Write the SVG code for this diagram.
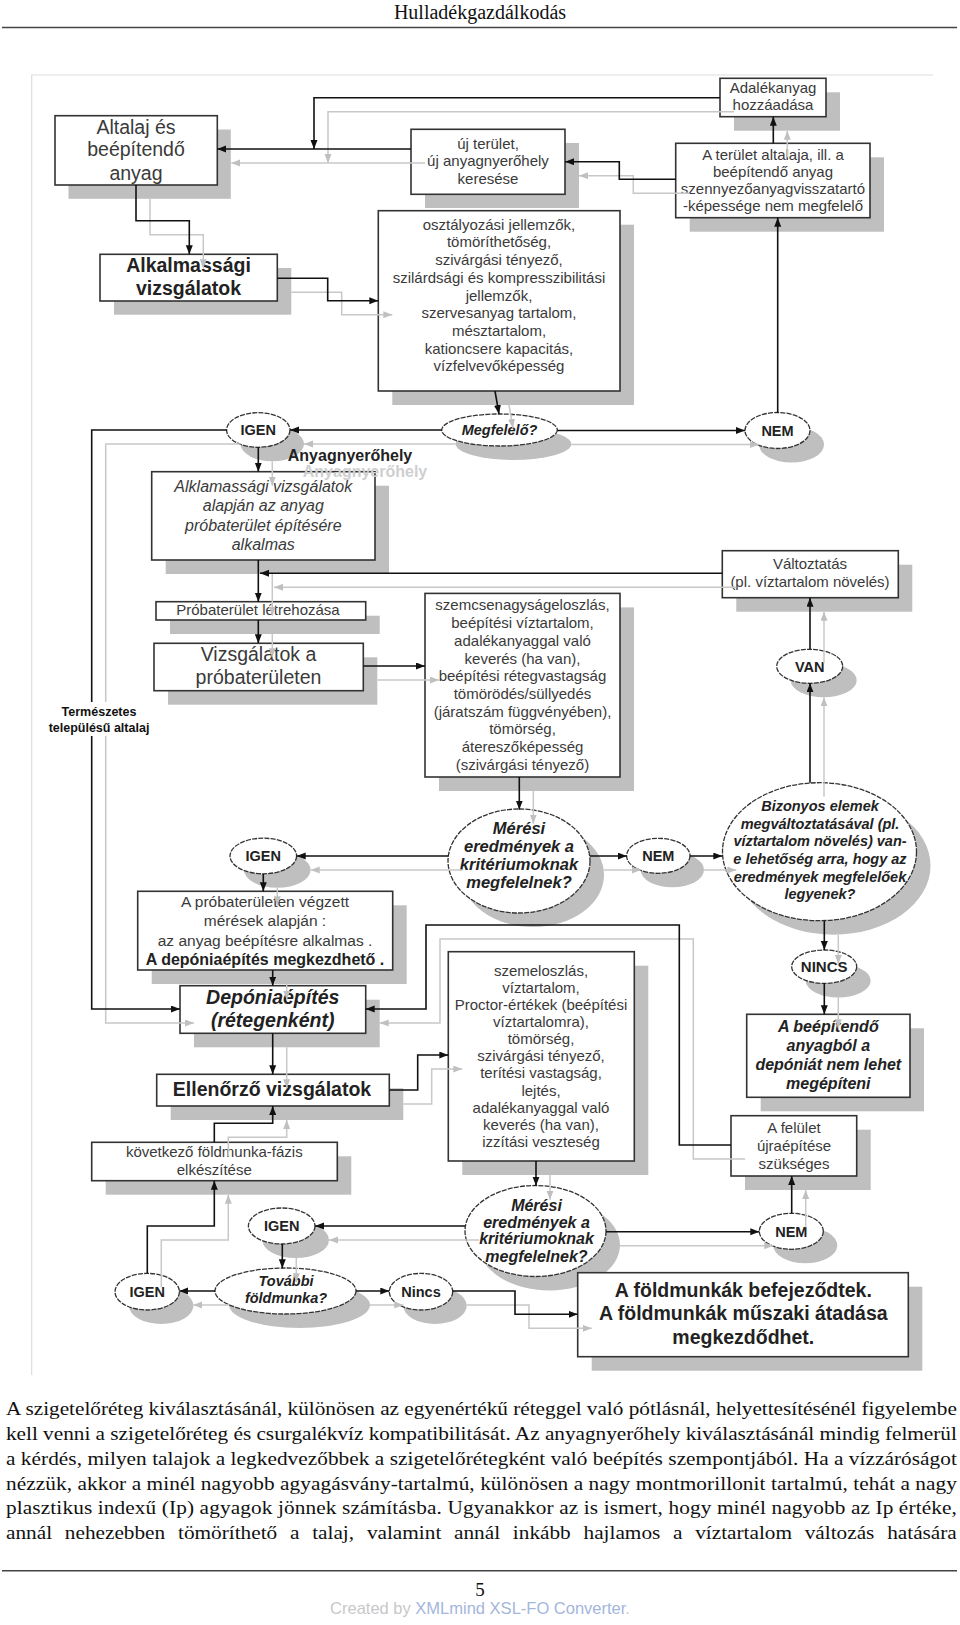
<svg xmlns="http://www.w3.org/2000/svg" width="960" height="1625" viewBox="0 0 960 1625">
<defs>
<style>
.bs{fill:#bfbfbf}
.bx{fill:#fff;stroke:#333;stroke-width:1.6}
.el{fill:#fff;stroke:#333;stroke-width:1.3;stroke-dasharray:5 1.2}
.t{font-family:"Liberation Sans",Arial,sans-serif;fill:#3a3a3a;text-anchor:middle;font-size:15px}
.b{font-weight:bold;fill:#222}
.i{font-style:italic}
.f19{font-size:19.5px}
.f16{font-size:16px}
.f14{font-size:14.5px}
.c{fill:none;stroke:#111;stroke-width:1.6;marker-end:url(#ah)}
.cs{fill:none;stroke:#c8c8c8;stroke-width:1.5;marker-end:url(#ahg)}
.serif{font-family:"Liberation Serif","Times New Roman",serif;fill:#111}
</style>
<marker id="ah" markerUnits="userSpaceOnUse" markerWidth="10" markerHeight="8" refX="9" refY="3.5" orient="auto"><path d="M0,0 L9,3.5 L0,7 z" fill="#111"/></marker>
<marker id="ahg" markerUnits="userSpaceOnUse" markerWidth="10" markerHeight="8" refX="9" refY="3.5" orient="auto"><path d="M0,0 L9,3.5 L0,7 z" fill="#c0c0c0"/></marker>
</defs>
<rect width="960" height="1625" fill="#fff"/>
<!-- page header -->
<text class="serif" x="480" y="19" font-size="20" text-anchor="middle">Hulladékgazdálkodás</text>
<line x1="2" y1="27.5" x2="957" y2="27.5" stroke="#444" stroke-width="1.5"/>
<!-- frame -->
<path d="M31.7,1375 V75 H933" fill="none" stroke="#ddd" stroke-width="1.2"/>

<g id="n-altalaj"><rect class="bs" x="68.5" y="129.5" width="162.3" height="69.3"/><rect class="bx" x="55" y="115.7" width="162.3" height="69.3"/>
<text class="t f19" x="136"><tspan x="136" y="133.7">Altalaj és</tspan><tspan x="136" y="156">beépítendő</tspan><tspan x="136" y="179.7">anyag</tspan></text></g>

<g id="n-alkalmassagi"><rect class="bs" x="114" y="268" width="177.3" height="46.7"/><rect class="bx" x="100" y="254.3" width="177.3" height="46.7"/>
<text class="t b f19" x="188.5"><tspan x="188.5" y="272">Alkalmassági</tspan><tspan x="188.5" y="294.7">vizsgálatok</tspan></text></g>

<g id="n-ujterulet"><rect class="bs" x="425" y="143" width="154" height="65"/><rect class="bx" x="411" y="129.3" width="154" height="65"/>
<text class="t" x="488"><tspan x="488" y="148.7">új terület,</tspan><tspan x="488" y="166.1">új anyagnyerőhely</tspan><tspan x="488" y="183.7">keresése</tspan></text></g>

<g id="n-osztalyozasi"><rect class="bs" x="392.3" y="224.7" width="241.7" height="180.3"/><rect class="bx" x="378.3" y="210.7" width="241.7" height="180.3"/>
<text class="t" x="499"><tspan x="499" y="229.7">osztályozási jellemzők,</tspan><tspan x="499" y="247.4">tömöríthetőség,</tspan><tspan x="499" y="265.1">szivárgási tényező,</tspan><tspan x="499" y="282.8">szilárdsági és kompresszibilitási</tspan><tspan x="499" y="300.5">jellemzők,</tspan><tspan x="499" y="318.2">szervesanyag tartalom,</tspan><tspan x="499" y="335.9">mésztartalom,</tspan><tspan x="499" y="353.6">kationcsere kapacitás,</tspan><tspan x="499" y="371.3">vízfelvevőképesség</tspan></text></g>

<g id="n-adalekanyag"><rect class="bs" x="734" y="92.3" width="106" height="38.4"/><rect class="bx" x="720" y="78.3" width="106" height="38.4"/>
<text class="t" x="773"><tspan x="773" y="92.7">Adalékanyag</tspan><tspan x="773" y="109.7">hozzáadása</tspan></text></g>

<g id="n-terulet-altalaja"><rect class="bs" x="689.7" y="157.3" width="194.3" height="74.4"/><rect class="bx" x="675.7" y="143.3" width="194.3" height="74.4"/>
<text class="t" x="773"><tspan x="773" y="159.7">A terület altalaja, ill. a</tspan><tspan x="773" y="176.9">beépítendő anyag</tspan><tspan x="773" y="194.1">szennyezőanyagvisszatartó</tspan><tspan x="773" y="211.3">-képessége nem megfelelő</tspan></text></g>

<g id="n-igen1"><ellipse class="bs" cx="272.3" cy="444" rx="31.7" ry="17.3"/><ellipse class="el" cx="258.3" cy="430" rx="31.7" ry="17.3"/><text class="t b f14" x="258.3" y="435.2">IGEN</text></g>
<g id="n-megfelelo"><ellipse class="bs" cx="513.5" cy="444" rx="57.8" ry="16"/><ellipse class="el" cx="499.5" cy="430" rx="57.8" ry="16"/><text class="t b i f14" x="499.5" y="435.2">Megfelelő?</text></g>
<g id="n-nem1"><ellipse class="bs" cx="791.5" cy="444.5" rx="32.5" ry="18"/><ellipse class="el" cx="777.5" cy="430.5" rx="32.5" ry="18"/><text class="t b f14" x="777.5" y="435.7">NEM</text></g>

<g id="n-alklamassagi"><rect class="bs" x="165.7" y="485.7" width="223.3" height="88.3"/><rect class="bx" x="151.7" y="471.7" width="223.3" height="88.3"/>
<text class="t i f16" x="263.3"><tspan x="263.3" y="491.8">Alklamassági vizsgálatok</tspan><tspan x="263.3" y="511.2">alapján az anyag</tspan><tspan x="263.3" y="530.6">próbaterület építésére</tspan><tspan x="263.3" y="550">alkalmas</tspan></text></g>

<g id="n-probaterulet"><rect class="bs" x="170" y="615.7" width="209.7" height="18.3"/><rect class="bx" x="156" y="601.7" width="209.7" height="18.3"/>
<text class="t" x="258" y="614.7">Próbaterület létrehozása</text></g>

<g id="n-vizsgalatok"><rect class="bs" x="168" y="657.3" width="209.3" height="47.4"/><rect class="bx" x="154" y="643.3" width="209.3" height="47.4"/>
<text class="t f19" x="258.5"><tspan x="258.5" y="661">Vizsgálatok a</tspan><tspan x="258.5" y="683.7">próbaterületen</tspan></text></g>

<g id="n-szemcse"><rect class="bs" x="439" y="607.4" width="195" height="183.6"/><rect class="bx" x="425" y="593.4" width="195" height="183.6"/>
<text class="t" x="522.5"><tspan x="522.5" y="610.3">szemcsenagyságeloszlás,</tspan><tspan x="522.5" y="628">beépítési víztartalom,</tspan><tspan x="522.5" y="645.8">adalékanyaggal való</tspan><tspan x="522.5" y="663.5">keverés (ha van),</tspan><tspan x="522.5" y="681.2">beépítési rétegvastagság</tspan><tspan x="522.5" y="699">tömörödés/süllyedés</tspan><tspan x="522.5" y="716.7">(járatszám függvényében),</tspan><tspan x="522.5" y="734.4">tömörség,</tspan><tspan x="522.5" y="752.2">átereszőképesség</tspan><tspan x="522.5" y="769.9">(szivárgási tényező)</tspan></text></g>

<g id="n-valtoztatas"><rect class="bs" x="736.3" y="564.7" width="176" height="47"/><rect class="bx" x="722.3" y="550.7" width="176" height="47"/>
<text class="t" x="810"><tspan x="810" y="568.7">Változtatás</tspan><tspan x="810" y="587.1">(pl. víztartalom növelés)</tspan></text></g>

<g id="n-van"><ellipse class="bs" cx="823.7" cy="680.3" rx="33" ry="17"/><ellipse class="el" cx="809.7" cy="666.3" rx="33" ry="17"/><text class="t b f14" x="809.7" y="671.5">VAN</text></g>

<g id="n-meresi1"><ellipse class="bs" cx="533" cy="875" rx="71" ry="52"/><ellipse class="el" cx="519" cy="861" rx="71" ry="52"/>
<text class="t b i" style="font-size:16.5px" x="519"><tspan x="519" y="834">Mérési</tspan><tspan x="519" y="852">eredmények a</tspan><tspan x="519" y="870">kritériumoknak</tspan><tspan x="519" y="888">megfelelnek?</tspan></text></g>

<g id="n-igen2"><ellipse class="bs" cx="277.3" cy="870" rx="33.3" ry="17.8"/><ellipse class="el" cx="263.3" cy="856" rx="33.3" ry="17.8"/><text class="t b f14" x="263.3" y="861.2">IGEN</text></g>
<g id="n-nem2"><ellipse class="bs" cx="672.3" cy="869.8" rx="31.7" ry="17.5"/><ellipse class="el" cx="658.3" cy="855.8" rx="31.7" ry="17.5"/><text class="t b f14" x="658.3" y="861">NEM</text></g>

<g id="n-bizonyos"><ellipse class="bs" cx="833.5" cy="865.7" rx="97" ry="69"/><ellipse class="el" cx="819.5" cy="851.7" rx="97" ry="69"/>
<text class="t b i f14" x="820"><tspan x="820" y="811.2">Bizonyos elemek</tspan><tspan x="820" y="828.8">megváltoztatásával (pl.</tspan><tspan x="820" y="846.4">víztartalom növelés) van-</tspan><tspan x="820" y="864">e lehetőség arra, hogy az</tspan><tspan x="820" y="881.6">eredmények megfelelőek</tspan><tspan x="820" y="899.2">legyenek?</tspan></text></g>

<g id="n-nincs1"><ellipse class="bs" cx="838.2" cy="980.7" rx="32.5" ry="16.7"/><ellipse class="el" cx="824.2" cy="966.7" rx="32.5" ry="16.7"/><text class="t b" x="824.2" y="972.1">NINCS</text></g>

<g id="n-nem-lehet"><rect class="bs" x="760.7" y="1028.3" width="163.3" height="83"/><rect class="bx" x="746.7" y="1014.3" width="163.3" height="83"/>
<text class="t b i f16" x="828.3"><tspan x="828.3" y="1031.8">A beépítendő</tspan><tspan x="828.3" y="1050.9">anyagból a</tspan><tspan x="828.3" y="1070">depóniát nem lehet</tspan><tspan x="828.3" y="1089.1">megépíteni</tspan></text></g>

<g id="n-probameres"><rect class="bs" x="151.7" y="905.3" width="255" height="78.7"/><rect class="bx" x="137.7" y="891.3" width="255" height="78.7"/>
<text class="t" style="font-size:15.5px" x="265"><tspan x="265" y="906.6">A próbaterületen végzett</tspan><tspan x="265" y="926.3">mérések alapján :</tspan><tspan x="265" y="945.6">az anyag beépítésre alkalmas .</tspan><tspan x="265" y="965.1" class="b f16">A depóniaépítés megkezdhető .</tspan></text></g>

<g id="n-deponia"><rect class="bs" x="194" y="999.7" width="185.7" height="47.6"/><rect class="bx" x="180" y="985.7" width="185.7" height="47.6"/>
<text class="t b i f19" x="272.7"><tspan x="272.7" y="1003.7">Depóniaépítés</tspan><tspan x="272.7" y="1027">(rétegenként)</tspan></text></g>

<g id="n-ellenorzo"><rect class="bs" x="170.7" y="1088.3" width="232.6" height="31.7"/><rect class="bx" x="156.7" y="1074.3" width="232.6" height="31.7"/>
<text class="t b f19" x="272" y="1096.3">Ellenőrző vizsgálatok</text></g>

<g id="n-szemelo"><rect class="bs" x="462.3" y="965.7" width="186" height="209.3"/><rect class="bx" x="448.3" y="951.7" width="186" height="209.3"/>
<text class="t" x="541"><tspan x="541" y="975.8">szemeloszlás,</tspan><tspan x="541" y="992.9">víztartalom,</tspan><tspan x="541" y="1010">Proctor-értékek (beépítési</tspan><tspan x="541" y="1027.1">víztartalomra),</tspan><tspan x="541" y="1044.2">tömörség,</tspan><tspan x="541" y="1061.3">szivárgási tényező,</tspan><tspan x="541" y="1078.4">terítési vastagság,</tspan><tspan x="541" y="1095.5">lejtés,</tspan><tspan x="541" y="1112.6">adalékanyaggal való</tspan><tspan x="541" y="1129.7">keverés (ha van),</tspan><tspan x="541" y="1146.8">izzítási veszteség</tspan></text></g>

<g id="n-felulet"><rect class="bs" x="745" y="1129.7" width="125.7" height="60.3"/><rect class="bx" x="731" y="1115.7" width="125.7" height="60.3"/>
<text class="t" x="794"><tspan x="794" y="1133.1">A felület</tspan><tspan x="794" y="1150.9">újraépítése</tspan><tspan x="794" y="1168.7">szükséges</tspan></text></g>

<g id="n-kovetkezo"><rect class="bs" x="105.7" y="1156.3" width="245.6" height="38.4"/><rect class="bx" x="91.7" y="1142.3" width="245.6" height="38.4"/>
<text class="t" x="214.3"><tspan x="214.3" y="1157.1">következő földmunka-fázis</tspan><tspan x="214.3" y="1175.4">elkészítése</tspan></text></g>

<g id="n-meresi2"><ellipse class="bs" cx="549.5" cy="1245" rx="70.5" ry="45.5"/><ellipse class="el" cx="535.5" cy="1231" rx="70.5" ry="45.5"/>
<text class="t b i f16" x="536.5"><tspan x="536.5" y="1210.8">Mérési</tspan><tspan x="536.5" y="1228">eredmények a</tspan><tspan x="536.5" y="1243.5">kritériumoknak</tspan><tspan x="536.5" y="1261.5">megfelelnek?</tspan></text></g>

<g id="n-igen3"><ellipse class="bs" cx="295.7" cy="1240" rx="33.3" ry="18"/><ellipse class="el" cx="281.7" cy="1226" rx="33.3" ry="18"/><text class="t b f14" x="281.7" y="1231.2">IGEN</text></g>
<g id="n-nem3"><ellipse class="bs" cx="805.3" cy="1245.3" rx="32" ry="18"/><ellipse class="el" cx="791.3" cy="1231.3" rx="32" ry="18"/><text class="t b f14" x="791.3" y="1236.5">NEM</text></g>
<g id="n-tovabbi"><ellipse class="bs" cx="299.5" cy="1305" rx="70.5" ry="23"/><ellipse class="el" cx="285.5" cy="1291" rx="70.5" ry="23"/>
<text class="t b i f14" x="286"><tspan x="286" y="1286.2">További</tspan><tspan x="286" y="1302.9">földmunka?</tspan></text></g>
<g id="n-igen4"><ellipse class="bs" cx="161.2" cy="1305.7" rx="32.2" ry="18.3"/><ellipse class="el" cx="147.2" cy="1291.7" rx="32.2" ry="18.3"/><text class="t b f14" x="147.2" y="1296.9">IGEN</text></g>
<g id="n-nincs2"><ellipse class="bs" cx="435" cy="1305.7" rx="31.7" ry="18.3"/><ellipse class="el" cx="421" cy="1291.7" rx="31.7" ry="18.3"/><text class="t b f14" x="421" y="1296.9">Nincs</text></g>

<g id="n-befejezodtek"><rect class="bs" x="591.7" y="1286.7" width="330.6" height="84"/><rect class="bx" x="577.7" y="1272.7" width="330.6" height="84"/>
<text class="t b f19" x="743.3"><tspan x="743.3" y="1297">A földmunkák befejeződtek.</tspan><tspan x="743.3" y="1319.7">A földmunkák műszaki átadása</tspan><tspan x="743.3" y="1343.7">megkezdődhet.</tspan></text></g>

<g id="connector-shadows" transform="translate(14,14)">
<path class="cs" d="M720,97.7 H314 V149"/>
<path class="cs" d="M411,149 H217.3"/>
<path class="cs" d="M136,185 V220.7 H189.3 V254.3"/>
<path class="cs" d="M277.3,278.3 H327.7 V300.7 H378.3"/>
<path class="cs" d="M675.7,179.3 H619.3 V161.7 H565"/>
<path class="cs" d="M773.3,143.3 V116.7"/>
<path class="cs" d="M495,391 L499,414"/>
<path class="cs" d="M441.7,430 H290"/>
<path class="cs" d="M557.3,430.5 H745"/>
<path class="cs" d="M258.3,447.3 V471.7"/>
<path class="cs" d="M226.7,430 H91.7 V1009 H180"/>
<path class="cs" d="M258.3,560 V601.7"/>
<path class="cs" d="M722.3,573.3 H260"/>
<path class="cs" d="M258.3,620 V643.3"/>
<path class="cs" d="M363.3,666 H425"/>
<path class="cs" d="M519.3,777 V809.6"/>
<path class="cs" d="M448.3,856 H296.7"/>
<path class="cs" d="M590,856 H626.7"/>
<path class="cs" d="M690,856 H722.3"/>
<path class="cs" d="M810,782.7 V683.3"/>
<path class="cs" d="M810,649.3 V597.7"/>
<path class="cs" d="M824.3,920.7 V950"/>
<path class="cs" d="M824.3,983.3 V1014.3"/>
<path class="cs" d="M263.3,874 V891.3"/>
<path class="cs" d="M272.7,970 V985.7"/>
<path class="cs" d="M731,1145 H679.3 V925 H426 V1009 H365.7"/>
<path class="cs" d="M272.7,1033.3 V1074.3"/>
<path class="cs" d="M389.3,1090 H417.7 V1055 H448.3"/>
<path class="cs" d="M536,1161 V1185.7"/>
<path class="cs" d="M465,1226 H315"/>
<path class="cs" d="M606,1231.7 H759.3"/>
<path class="cs" d="M791.7,1213.3 V1176"/>
<path class="cs" d="M282.3,1244 V1268.3"/>
<path class="cs" d="M215,1291 H179.3"/>
<path class="cs" d="M356,1291 H389.3"/>
<path class="cs" d="M452.7,1291 H515 V1314.3 H577.7"/>
<path class="cs" d="M147.3,1273.3 V1226 H214.3 V1180.7"/>
<path class="cs" d="M214.3,1142.3 V1123.3 H272.7 V1106"/>
</g>

<g id="connectors">
<path class="c" d="M720,97.7 H314 V149"/>
<path class="c" d="M411,149 H217.3"/>
<path class="c" d="M136,185 V220.7 H189.3 V254.3"/>
<path class="c" d="M277.3,278.3 H327.7 V300.7 H378.3"/>
<path class="c" d="M675.7,179.3 H619.3 V161.7 H565"/>
<path class="c" d="M773.3,143.3 V116.7"/>
<path class="c" d="M777.7,412.7 V217.7"/>
<path class="c" d="M495,391 L499,414"/>
<path class="c" d="M441.7,430 H290"/>
<path class="c" d="M557.3,430.5 H745"/>
<path class="c" d="M258.3,447.3 V471.7"/>
<path class="c" d="M226.7,430 H91.7 V1009 H180"/>
<path class="c" d="M258.3,560 V601.7"/>
<path class="c" d="M722.3,573.3 H260"/>
<path class="c" d="M258.3,620 V643.3"/>
<path class="c" d="M363.3,666 H425"/>
<path class="c" d="M519.3,777 V809.6"/>
<path class="c" d="M448.3,856 H296.7"/>
<path class="c" d="M590,856 H626.7"/>
<path class="c" d="M690,856 H722.3"/>
<path class="c" d="M810,782.7 V683.3"/>
<path class="c" d="M810,649.3 V597.7"/>
<path class="c" d="M824.3,920.7 V950"/>
<path class="c" d="M824.3,983.3 V1014.3"/>
<path class="c" d="M263.3,874 V891.3"/>
<path class="c" d="M272.7,970 V985.7"/>
<path class="c" d="M731,1145 H679.3 V925 H426 V1009 H365.7"/>
<path class="c" d="M272.7,1033.3 V1074.3"/>
<path class="c" d="M389.3,1090 H417.7 V1055 H448.3"/>
<path class="c" d="M536,1161 V1185.7"/>
<path class="c" d="M465,1226 H315"/>
<path class="c" d="M606,1231.7 H759.3"/>
<path class="c" d="M791.7,1213.3 V1176"/>
<path class="c" d="M282.3,1244 V1268.3"/>
<path class="c" d="M215,1291 H179.3"/>
<path class="c" d="M356,1291 H389.3"/>
<path class="c" d="M452.7,1291 H515 V1314.3 H577.7"/>
<path class="c" d="M147.3,1273.3 V1226 H214.3 V1180.7"/>
<path class="c" d="M214.3,1142.3 V1123.3 H272.7 V1106"/>
</g>

<g id="labels">
<text class="t b f16" x="365" y="476.5" style="fill:#cfcfcf">Anyagnyerőhely</text>
<text class="t b f16" x="350" y="460.8">Anyagnyerőhely</text>
<rect x="50" y="702" width="98" height="34" fill="#fff"/>
<text class="t b" style="font-size:12.5px;fill:#111" x="99"><tspan x="99" y="715.5">Természetes</tspan><tspan x="99" y="732.2">településű altalaj</tspan></text>
</g>

<g id="body-text" class="serif" font-size="19" transform="scale(1.12,1)">
<text x="5.36" y="1415.5" textLength="849" lengthAdjust="spacing">A szigetelőréteg kiválasztásánál, különösen az egyenértékű réteggel való pótlásnál, helyettesítésénél figyelembe</text>
<text x="5.36" y="1440.3" textLength="849" lengthAdjust="spacing">kell venni a szigetelőréteg és csurgalékvíz kompatibilitását. Az anyagnyerőhely kiválasztásánál mindig felmerül</text>
<text x="5.36" y="1465" textLength="849" lengthAdjust="spacing">a kérdés, milyen talajok a legkedvezőbbek a szigetelőrétegként való beépítés szempontjából. Ha a vízzáróságot</text>
<text x="5.36" y="1489.8" textLength="849" lengthAdjust="spacing">nézzük, akkor a minél nagyobb agyagásvány-tartalmú, különösen a nagy montmorillonit tartalmú, tehát a nagy</text>
<text x="5.36" y="1514.5" textLength="849" lengthAdjust="spacing">plasztikus indexű (Ip) agyagok jönnek számításba. Ugyanakkor az is ismert, hogy minél nagyobb az Ip értéke,</text>
<text y="1539.3"><tspan x="5.36">annál</tspan><tspan x="57.9">nehezebben</tspan><tspan x="158.9">tömöríthető</tspan><tspan x="259">a</tspan><tspan x="278.7">talaj,</tspan><tspan x="327.6">valamint</tspan><tspan x="405.4">annál</tspan><tspan x="457.9">inkább</tspan><tspan x="521">hajlamos</tspan><tspan x="600.9">a</tspan><tspan x="620.7">víztartalom</tspan><tspan x="718.5">változás</tspan><tspan x="792.1">hatására</tspan></text>
</g>

<g id="footer">
<line x1="2" y1="1570.7" x2="957" y2="1570.7" stroke="#444" stroke-width="1.5"/>
<text class="serif" x="480" y="1595.5" font-size="19" text-anchor="middle">5</text>
<text x="480" y="1614" font-family="Liberation Sans, Arial, sans-serif" font-size="16.5" text-anchor="middle" fill="#c8c8c8">Created by <tspan fill="#a3b6dc">XMLmind XSL-FO Converter</tspan>.</text>
</g>
</svg>
